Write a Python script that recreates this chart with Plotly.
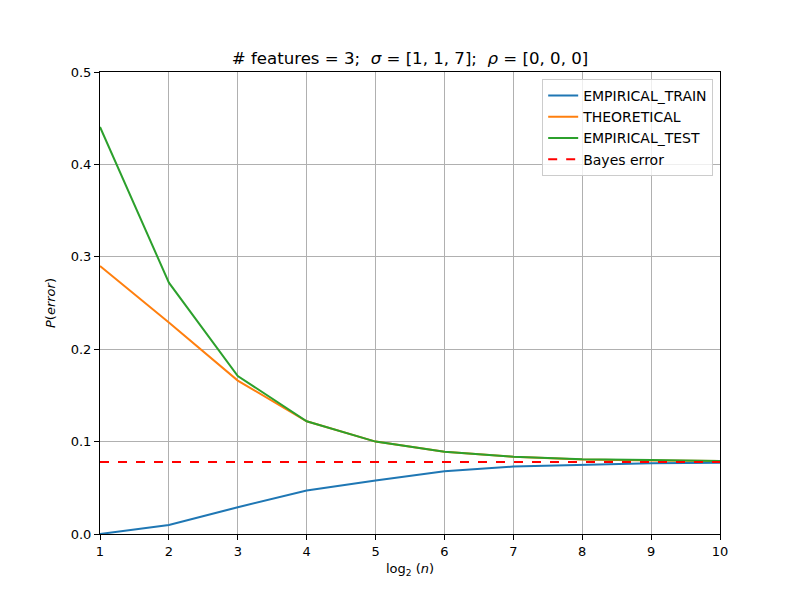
import plotly.graph_objects as go

log2_n = [1, 2, 3, 4, 5, 6, 7, 8, 9, 10]
empirical_train = [0.0, 0.0097, 0.029, 0.047, 0.058, 0.068, 0.073, 0.075, 0.0765, 0.0772]
theoretical = [0.29, 0.229, 0.166, 0.122, 0.100, 0.089, 0.0835, 0.0805, 0.0795, 0.079]
empirical_test = [0.4405, 0.272, 0.171, 0.122, 0.100, 0.089, 0.0837, 0.081, 0.0800, 0.0790]
bayes_error = 0.078

fig = go.Figure()
fig.add_trace(go.Scatter(x=log2_n, y=empirical_train, mode="lines", name="EMPIRICAL_TRAIN",
                         line=dict(color="#1f77b4", width=2)))
fig.add_trace(go.Scatter(x=log2_n, y=theoretical, mode="lines", name="THEORETICAL",
                         line=dict(color="#ff7f0e", width=2)))
fig.add_trace(go.Scatter(x=log2_n, y=empirical_test, mode="lines", name="EMPIRICAL_TEST",
                         line=dict(color="#2ca02c", width=2)))
fig.add_trace(go.Scatter(x=[log2_n[0], log2_n[-1]], y=[bayes_error, bayes_error], mode="lines",
                         name="Bayes error", line=dict(color="red", width=2, dash="dash")))

axis_common = dict(showgrid=True, gridcolor="#b0b0b0", gridwidth=1, showline=True,
                   linecolor="black", linewidth=1, mirror=True, ticks="outside",
                   ticklen=5, tickcolor="black", zeroline=False,
                   tickfont=dict(family="DejaVu Sans", size=13, color="black"))

fig.update_layout(
    width=800, height=600,
    paper_bgcolor="white", plot_bgcolor="white",
    margin=dict(l=100, r=80, t=72, b=66),
    font=dict(family="DejaVu Sans", size=13, color="black"),
    title=dict(text="# features = 3;  <i>σ</i> = [1, 1, 7];  <i>ρ</i> = [0, 0, 0]",
               x=0.5125, xanchor="center", y=0.903, yanchor="middle",
               font=dict(family="DejaVu Sans", size=16.6, color="black")),
    xaxis=dict(range=[1, 10], dtick=1,
               title=dict(text="log<sub>2</sub> (<i>n</i>)", standoff=6,
                          font=dict(family="DejaVu Sans", size=13)), **axis_common),
    yaxis=dict(range=[0, 0.5], dtick=0.1, tickformat=".1f",
               title=dict(text="<i>P</i>(<i>error</i>)", standoff=12,
                          font=dict(family="DejaVu Sans", size=13)), **axis_common),
    legend=dict(x=0.989, xanchor="right", y=0.985, yanchor="top",
                bgcolor="rgba(255,255,255,0.8)", bordercolor="#cccccc", borderwidth=1,
                font=dict(family="DejaVu Sans", size=14), tracegroupgap=0),
    showlegend=True,
)

fig.write_html("out.html")
